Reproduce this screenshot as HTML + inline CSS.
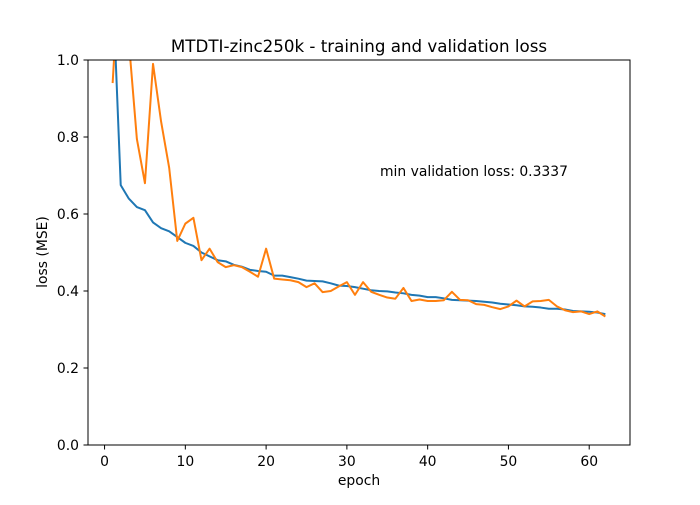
<!DOCTYPE html>
<html><head><meta charset="utf-8"><style>
body{margin:0;background:#fff}
svg{font-family:"DejaVu Sans","Liberation Sans",sans-serif}
</style></head><body>
<svg id="chart" width="700" height="500" xmlns="http://www.w3.org/2000/svg">
<rect width="700" height="500" fill="#fff"/>
<defs><clipPath id="clip"><rect x="88" y="60" width="542" height="385"/></clipPath></defs>
<text x="359" y="52" font-size="16.7" text-anchor="middle">MTDTI-zinc250k - training and validation loss</text>
<text x="380" y="176" font-size="13.9" text-anchor="start">min validation loss: 0.3337</text>
<text x="359" y="485" font-size="13.9" text-anchor="middle">epoch</text>
<text x="0" y="0" font-size="13.9" text-anchor="middle" transform="translate(47,252) rotate(-90)">loss (MSE)</text>
<g id="ticks"></g>
<g clip-path="url(#clip)" id="lines"></g>
<rect x="88" y="60" width="542" height="385" fill="none" stroke="#000" stroke-width="1"/>
</svg>
<script>
const epochs = Array.from({length:62},(_,i)=>i+1);
const trainLoss = [1.2,0.675,0.64,0.618,0.61,0.578,0.563,0.555,0.54,0.525,0.517,0.50,0.49,0.48,0.477,0.468,0.463,0.455,0.452,0.45,0.44,0.44,0.436,0.432,0.427,0.426,0.425,0.42,0.414,0.413,0.41,0.406,0.402,0.40,0.399,0.396,0.394,0.39,0.388,0.384,0.384,0.381,0.377,0.376,0.375,0.374,0.372,0.37,0.367,0.365,0.363,0.36,0.359,0.357,0.354,0.354,0.352,0.348,0.347,0.346,0.344,0.34];
const valLoss = [0.94,1.3,1.05,0.795,0.68,0.99,0.84,0.72,0.53,0.575,0.59,0.48,0.51,0.475,0.462,0.467,0.462,0.45,0.437,0.51,0.432,0.43,0.428,0.423,0.41,0.42,0.397,0.40,0.412,0.423,0.39,0.423,0.398,0.39,0.383,0.38,0.408,0.374,0.378,0.374,0.374,0.376,0.398,0.377,0.376,0.366,0.364,0.358,0.353,0.36,0.375,0.36,0.373,0.374,0.377,0.36,0.35,0.345,0.347,0.34,0.347,0.3337];
const xTicks = [0,10,20,30,40,50,60];
const yTicks = [0.0,0.2,0.4,0.6,0.8,1.0];
const xMin=-2.05, xMax=65.05, yMin=0, yMax=1;
const X=v=>88+(v-xMin)/(xMax-xMin)*542;
const Y=v=>445-(v-yMin)/(yMax-yMin)*385;
const NS="http://www.w3.org/2000/svg";
const tg=document.getElementById('ticks');
xTicks.forEach(t=>{
  const l=document.createElementNS(NS,'line');
  l.setAttribute('x1',X(t));l.setAttribute('x2',X(t));l.setAttribute('y1',445);l.setAttribute('y2',449.5);l.setAttribute('stroke','#000');
  
  
  tg.appendChild(l);
  const tx=document.createElementNS(NS,'text');
  tx.setAttribute('x',X(t));tx.setAttribute('y',466);tx.setAttribute('font-size','13.9');tx.setAttribute('text-anchor','middle');
  tx.textContent=t;
  
  
  tg.appendChild(tx);
});
yTicks.forEach(t=>{
  const l=document.createElementNS(NS,'line');
  l.setAttribute('x1',83.5);l.setAttribute('x2',88);l.setAttribute('y1',Y(t));l.setAttribute('y2',Y(t));l.setAttribute('stroke','#000');
  
  
  tg.appendChild(l);
  const tx=document.createElementNS(NS,'text');
  tx.setAttribute('x',79);tx.setAttribute('y',Y(t)+5);tx.setAttribute('font-size','13.9');tx.setAttribute('text-anchor','end');
  tx.textContent=t.toFixed(1);
  
  
  tg.appendChild(tx);
});
const lg=document.getElementById('lines');
function line(vals,color,name){
  const p=document.createElementNS(NS,'polyline');
  p.setAttribute('points',vals.map((v,i)=>X(epochs[i])+','+Y(v)).join(' '));
  p.setAttribute('fill','none');p.setAttribute('stroke',color);p.setAttribute('stroke-width','2');p.setAttribute('stroke-linejoin','round');
  
  
  lg.appendChild(p);
}
line(trainLoss,'#1f77b4','training-loss-line');
line(valLoss,'#ff7f0e','validation-loss-line');
</script>
</body></html>
